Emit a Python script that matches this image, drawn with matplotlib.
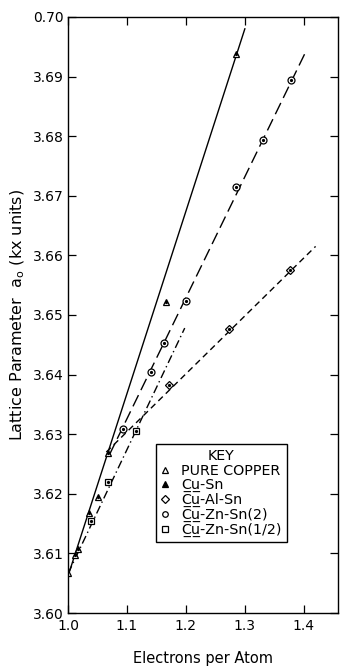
import matplotlib
matplotlib.use("Agg")
import matplotlib.pyplot as plt
from matplotlib.lines import Line2D

plt.rcParams['font.family'] = ['DejaVu Sans']

# measured points
cu_x = [1.000]
cu_y = [3.6067]

cusn_x = [1.012, 1.017, 1.036, 1.051, 1.068, 1.166, 1.285]
cusn_y = [3.6098, 3.6108, 3.6167, 3.6195, 3.6268, 3.6522, 3.6938]

cualsn_x = [1.171, 1.273, 1.376]
cualsn_y = [3.6383, 3.6477, 3.6575]

cuznsn2_x = [1.093, 1.141, 1.163, 1.200, 1.285, 1.331, 1.378]
cuznsn2_y = [3.6308, 3.6405, 3.6453, 3.6523, 3.6715, 3.6793, 3.6895]

cuznsn12_x = [1.039, 1.068, 1.115]
cuznsn12_y = [3.6155, 3.6220, 3.6305]

# drawn lines (end points)
solid_x = [1.000, 1.300]
solid_y = [3.6062, 3.6980]
longdash_x = [1.070, 1.405]
longdash_y = [3.6265, 3.6945]
shortdash_x = [1.065, 1.420]
shortdash_y = [3.6270, 3.6615]
dashdot_x = [1.000, 1.198]
dashdot_y = [3.6066, 3.6478]

xticks = [1.0, 1.1, 1.2, 1.3, 1.4]
yticks = [3.60, 3.61, 3.62, 3.63, 3.64, 3.65, 3.66, 3.67, 3.68, 3.69, 3.70]
yticklabels = ['3.60', '3.61', '3.62', '3.63', '3.64', '3.65', '3.66',
               '3.67', '3.68', '3.69', '0.70']

fig = plt.figure(figsize=(3.47, 6.69), dpi=100)
ax = fig.add_axes([0.196, 0.0837, 0.778, 0.891])

k = 'black'
ax.plot(solid_x, solid_y, color=k, lw=1.0)
ax.plot(longdash_x, longdash_y, color=k, lw=1.0, dashes=(9, 4))
ax.plot(shortdash_x, shortdash_y, color=k, lw=1.0, dashes=(4.5, 3))
ax.plot(dashdot_x, dashdot_y, color=k, lw=1.0, dashes=(6, 2.5, 1, 2.5))

mk = dict(color=k, ls='none', mfc='white', mec=k, mew=0.9, ms=5)
dot = dict(color=k, ls='none', marker='o', ms=1.3)
ax.plot(cu_x, cu_y, marker='^', **mk)
ax.plot(cusn_x, cusn_y, marker='^', **mk)
ax.plot(cusn_x, cusn_y, **dot)
ax.plot(cualsn_x, cualsn_y, marker='D', **dict(mk, ms=4.2))
ax.plot(cualsn_x, cualsn_y, **dot)
ax.plot(cuznsn2_x, cuznsn2_y, marker='o', **mk)
ax.plot(cuznsn2_x, cuznsn2_y, **dot)
ax.plot(cuznsn12_x, cuznsn12_y, marker='s', **dict(mk, ms=4.5))
ax.plot(cuznsn12_x, cuznsn12_y, **dot)

ax.set_xlim(1.0, 1.458)
ax.set_ylim(3.60, 3.70)
ax.set_xticks(xticks)
ax.set_xticklabels([f'{v:.1f}' for v in xticks])
ax.set_yticks(yticks)
ax.set_yticklabels(yticklabels)
ax.tick_params(direction='in', length=6, width=0.9, labelsize=10,
               top=True, right=True, pad=3)
ax.tick_params(axis='x', pad=4)
for s in ax.spines.values():
    s.set_linewidth(1.0)

ax.set_xlabel('Electrons per Atom', fontsize=10.5, labelpad=13)
ax.set_ylabel('Lattice Parameter  a$_\\mathregular{o}$ (kx units)',
              fontsize=11.5, labelpad=4)

# key
ul = '\u0332'
def under(s):
    return ''.join(c + ul for c in s)

handles = [
    Line2D([], [], marker='^', **mk),
    Line2D([], [], marker='^', **dict(mk, mfc='black', ms=4)),
    Line2D([], [], marker='D', **dict(mk, ms=4)),
    Line2D([], [], marker='o', **dict(mk, ms=4)),
    Line2D([], [], marker='s', **dict(mk, ms=4)),
]
labels = ['PURE COPPER',
          under('Cu') + '-Sn',
          under('Cu') + '-Al-Sn',
          under('Cu') + '-Zn-Sn(2)',
          under('Cu') + '-Zn-Sn(1/2)']
leg = ax.legend(handles, labels, title='KEY', loc='lower left',
                bbox_to_anchor=(0.326, 0.119, 0.544, 0.18),
                fontsize=10.3, title_fontsize=10.3, frameon=True,
                fancybox=False, edgecolor='black', framealpha=1,
                handlelength=0.6, handletextpad=0.8, labelspacing=0.05,
                borderpad=0.35, borderaxespad=0)
leg.get_frame().set_linewidth(1.0)

fig.savefig('out.png', dpi=100)
